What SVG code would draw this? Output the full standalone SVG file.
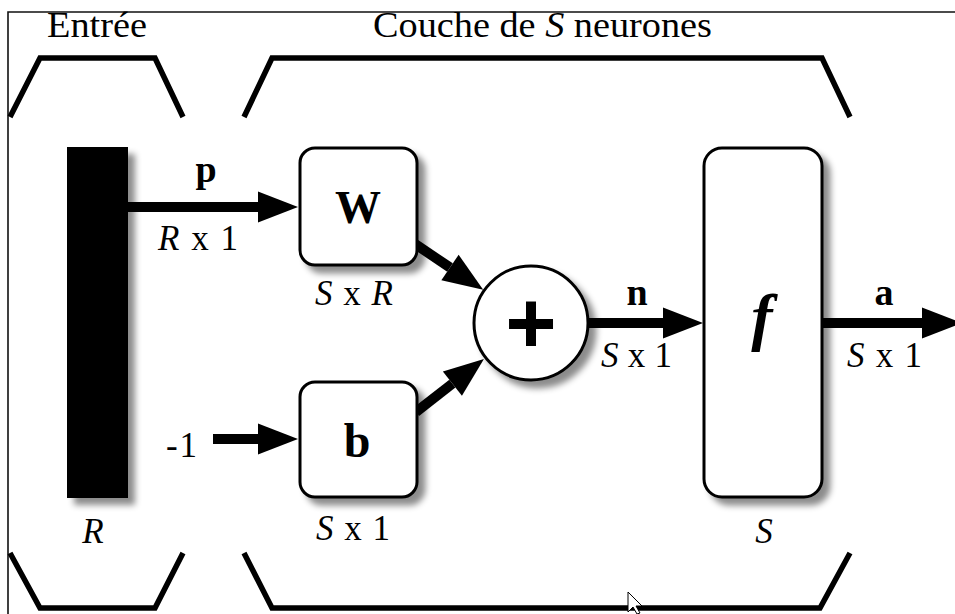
<svg xmlns="http://www.w3.org/2000/svg" width="955" height="614" viewBox="0 0 955 614">
<style>
.t{font-family:"Liberation Serif","Times New Roman",serif;fill:#000}
.lab{font-size:35px}
.it{font-style:italic}
.bd{font-weight:bold}
.br{fill:none;stroke:#000;stroke-width:5.5;stroke-linejoin:miter;stroke-linecap:butt}
.box{fill:#fff;stroke:#000;stroke-width:3;filter:url(#sh)}
.ar{stroke:#000;stroke-width:10;fill:none;marker-end:url(#ah)}
</style>
<defs>
<filter id="sh" x="-30%" y="-30%" width="160%" height="160%">
<feDropShadow dx="7" dy="7" stdDeviation="3" flood-color="#000" flood-opacity="0.45"/>
</filter>
<marker id="ah" markerUnits="userSpaceOnUse" markerWidth="42" markerHeight="32" refX="0" refY="15.5" orient="auto" overflow="visible">
<path d="M0,0 L40,15.5 L0,31 z" fill="#000"/>
</marker>
</defs>
<rect width="955" height="614" fill="#fff"/>
<path d="M8,614 L8,12 L955,12" fill="none" stroke="#111" stroke-width="1.6"/>
<g id="titles">
<text class="t" x="47" y="37" font-size="35" textLength="100" lengthAdjust="spacingAndGlyphs">Entrée</text>
<text class="t" x="373" y="37" font-size="35" textLength="339" lengthAdjust="spacingAndGlyphs">Couche de <tspan class="it">S</tspan> neurones</text>
</g>
<g id="brackets">
<polyline class="br" points="10,117 40,58 155,58 183,117"/>
<polyline class="br" points="244,117 272,58 822,58 850,117"/>
<polyline class="br" points="10,553 40,608 155,608 183,553"/>
<polyline class="br" points="244,553 272,608 820,608 850,553"/>
</g>
<g id="connectors">
<line class="ar" x1="128" y1="207" x2="258" y2="207"/>
<line class="ar" x1="213" y1="439" x2="258" y2="439"/>
<line class="ar" x1="415" y1="244" x2="450" y2="267.5"/>
<line class="ar" x1="416" y1="412" x2="452.4" y2="383.6"/>
<line class="ar" x1="589" y1="323" x2="663" y2="323"/>
<line class="ar" x1="822" y1="323" x2="922" y2="323"/>
<text class="t bd" x="206" y="182" text-anchor="middle" font-size="38">p</text>
<text class="t lab" x="158" y="250" textLength="80"><tspan class="it">R</tspan> x 1</text>
<text class="t lab" x="166" y="457" textLength="31">-1</text>
<text class="t bd" x="637" y="305" text-anchor="middle" font-size="38">n</text>
<text class="t lab" x="601" y="367" textLength="71"><tspan class="it">S</tspan> x 1</text>
<text class="t bd" x="884" y="305" text-anchor="middle" font-size="38">a</text>
<text class="t lab" x="847" y="367" textLength="75"><tspan class="it">S</tspan> x 1</text>
</g>
<g id="input">
<rect x="67" y="147" width="61" height="351" fill="#000" filter="url(#sh)"/>
<text class="t lab it" x="93" y="543" text-anchor="middle">R</text>
</g>
<g id="W">
<rect class="box" x="300" y="148" width="117" height="117" rx="15"/>
<text class="t bd" x="358" y="223" font-size="46" text-anchor="middle">W</text>
<text class="t lab" x="315" y="305" textLength="78"><tspan class="it">S</tspan> x <tspan class="it">R</tspan></text>
</g>
<g id="b">
<rect class="box" x="300" y="382" width="117" height="115" rx="15"/>
<text class="t bd" x="357" y="457" font-size="48" text-anchor="middle">b</text>
<text class="t lab" x="316" y="540" textLength="74"><tspan class="it">S</tspan> x 1</text>
</g>
<g id="sum">
<circle class="box" cx="531" cy="323" r="57"/>
<text class="t bd" x="531" y="353" font-size="86" text-anchor="middle" stroke="#000" stroke-width="4">+</text>
</g>
<g id="f">
<rect class="box" x="704" y="148" width="118" height="349" rx="18"/>
<text class="t bd it" x="762" y="338" font-size="64" text-anchor="middle">f</text>
<text class="t lab it" x="764" y="543" text-anchor="middle">S</text>
</g>
<g id="cursor">
<path d="M628,592 L628,612 L633,607 L637,614 L640,613 L636,606 L642,606 z" fill="#fff" stroke="#000" stroke-width="1"/>
</g>
</svg>
